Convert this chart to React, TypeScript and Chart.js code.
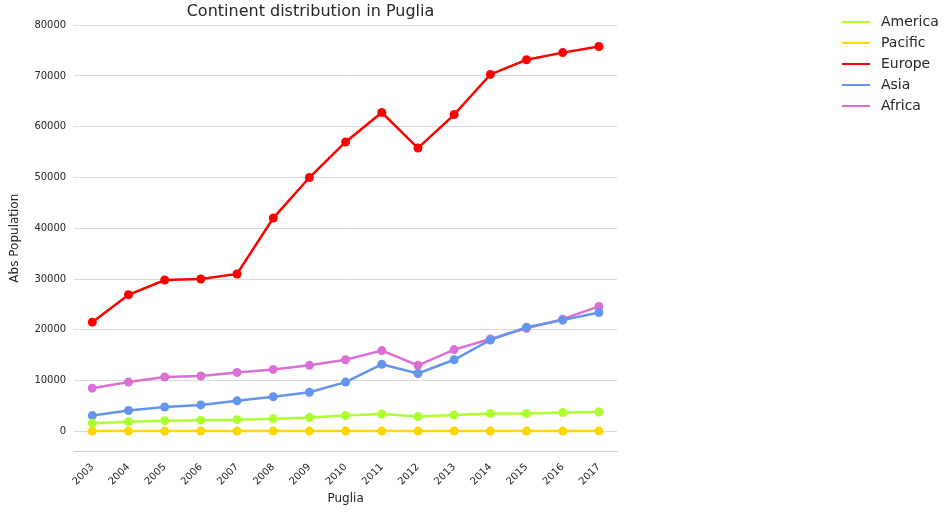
import { useEffect, useRef } from "react";
import { Chart } from "chart.js/auto";

const years = ["2003","2004","2005","2006","2007","2008","2009","2010","2011","2012","2013","2014","2015","2016","2017"];
const america = [1600,1900,2100,2200,2300,2500,2700,3100,3400,2900,3200,3500,3500,3700,3800];
const pacific = [60,50,50,50,50,50,50,50,50,50,50,50,50,50,50];
const europe = [21500,26900,29800,30000,31000,42000,50000,57000,62800,55800,62400,70300,73200,74600,75800];
const asia = [3100,4100,4800,5200,6000,6800,7700,9700,13200,11400,14100,18000,20500,21900,23400];
const africa = [8500,9700,10700,10900,11600,12200,13000,14100,15900,13000,16100,18200,20300,22100,24600];

const series = [
  { label: "America", data: america, color: "#adff2f" },
  { label: "Pacific", data: pacific, color: "#ffd700" },
  { label: "Europe", data: europe, color: "#ff0000" },
  { label: "Asia", data: asia, color: "#6495ed" },
  { label: "Africa", data: africa, color: "#da70d6" },
];

const FONT = "DejaVu Sans";

const legendPlugin = {
  id: "sideLegend",
  afterDraw(chart: Chart) {
    const ctx = chart.ctx;
    ctx.save();
    ctx.font = `14px ${FONT}`;
    ctx.textBaseline = "middle";
    series.forEach((s, i) => {
      const y = 22 + i * 21;
      ctx.strokeStyle = s.color;
      ctx.lineWidth = 2;
      ctx.beginPath();
      ctx.moveTo(842, y);
      ctx.lineTo(870, y);
      ctx.stroke();
      ctx.fillStyle = "#262626";
      ctx.fillText(s.label, 881, y);
    });
    ctx.restore();
  },
};

export default function App() {
  const canvasRef = useRef<HTMLCanvasElement | null>(null);

  useEffect(() => {
    if (!canvasRef.current) return;
    const chart = new Chart(canvasRef.current, {
      type: "line",
      data: {
        labels: years,
        datasets: series.map((s) => ({
          label: s.label,
          data: s.data,
          borderColor: s.color,
          backgroundColor: s.color,
          borderWidth: 2.5,
          pointRadius: 4.5,
          pointBorderWidth: 0,
          tension: 0,
        })),
      },
      options: {
        animation: false,
        responsive: false,
        layout: { padding: { left: 4, right: 335, top: 2, bottom: 4 } },
        plugins: {
          legend: { display: false },
          tooltip: { enabled: false },
          title: {
            display: true,
            text: "Continent distribution in Puglia",
            color: "#262626",
            font: { family: FONT, size: 16, weight: "normal" },
            padding: { top: 0, bottom: 4 },
          },
        },
        scales: {
          x: {
            offset: true,
            grid: { display: false },
            border: { display: true, color: "#cccccc" },
            title: { display: true, text: "Puglia", color: "#262626", font: { family: FONT, size: 12 }, padding: 2 },
            ticks: { color: "#262626", font: { family: FONT, size: 10 }, minRotation: 45, maxRotation: 45, padding: 2 },
          },
          y: {
            min: -3900,
            max: 80000,
            afterBuildTicks: (axis: any) => {
              axis.ticks = [0,10000,20000,30000,40000,50000,60000,70000,80000].map((v) => ({ value: v }));
            },
            grid: { color: "#d9d9d9", drawTicks: false },
            border: { display: false },
            title: { display: true, text: "Abs Population", color: "#262626", font: { family: FONT, size: 12 } },
            ticks: { color: "#262626", font: { family: FONT, size: 10 }, padding: 8, callback: (v: any) => String(v) },
          },
        },
      },
      plugins: [legendPlugin],
    });
    return () => chart.destroy();
  }, []);

  return (
    <div style={{ position: "fixed", left: 0, top: 0, width: 952, height: 512 }}>
      <canvas ref={canvasRef} width={952} height={512} />
    </div>
  );
}
